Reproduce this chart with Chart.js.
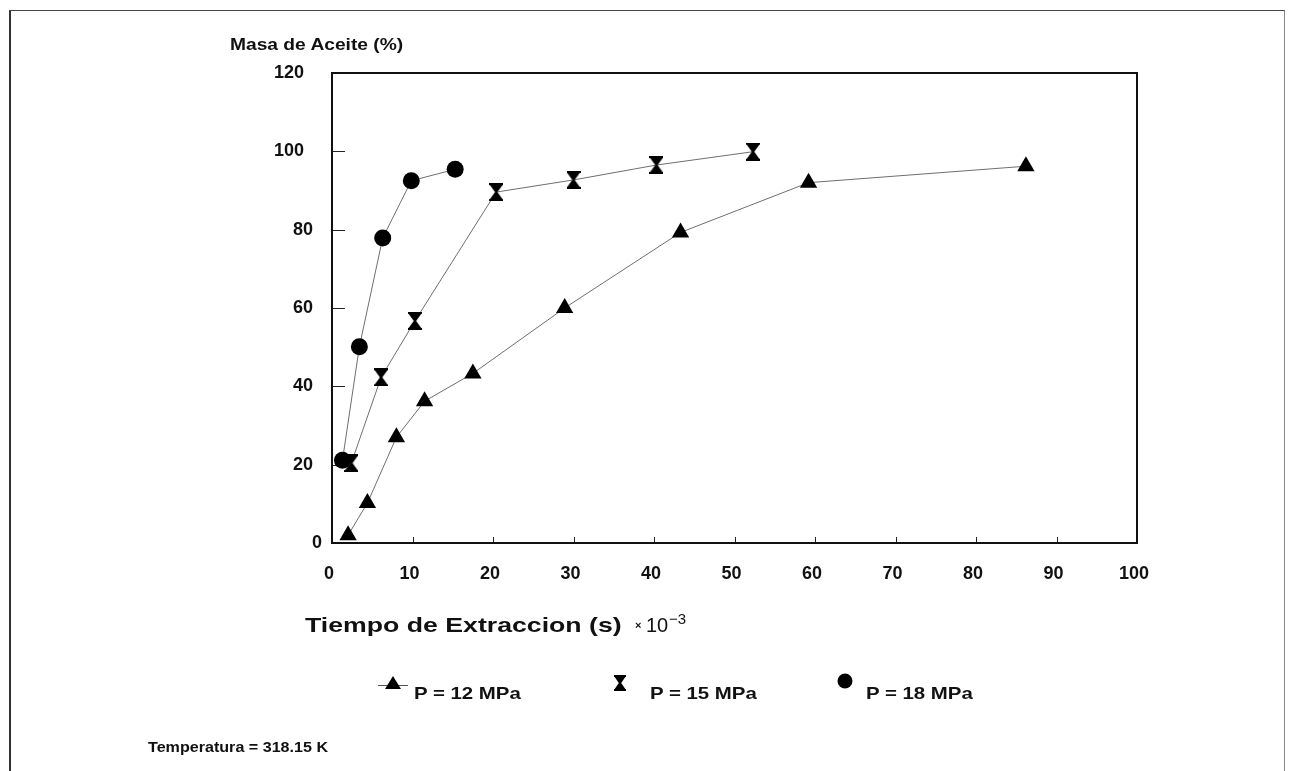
<!DOCTYPE html>
<html>
<head>
<meta charset="utf-8">
<script src="https://cdn.jsdelivr.net/npm/chart.js@4.4.1/dist/chart.umd.min.js"></script>
<style>
  html, body { margin: 0; padding: 0; background: #fff; overflow: hidden; }
  #wrap { position: relative; width: 1295px; height: 771px; font-family: "Liberation Sans", Arial, sans-serif; color: #111; }
  #outer { position: absolute; left: 9px; top: 10px; width: 1273px; height: 800px; border-left: 2px solid #333; border-top: 1px solid #444; border-right: 1px solid #888; }
  #chart { position: absolute; left: 0; top: 0; }
  .txt { position: absolute; white-space: nowrap; transform-origin: 0 0; line-height: 1; }
  .b { font-weight: bold; }
  .mk { position: absolute; }
</style>
</head>
<body>
<div id="wrap">
  <div id="outer"></div>
  <canvas id="chart" width="1295" height="771"></canvas>
  <div class="txt b" id="ytitle" style="left:230px; top:37px; font-size:16px; transform:scaleX(1.2);">Masa de Aceite (%)</div>
  <div class="txt b" style="left:305px; top:614px; font-size:21px; transform:scaleX(1.27);">Tiempo de Extraccion (s)</div>
  <div class="txt b" style="left:635px; top:620px; font-size:11px;">×</div>
  <div class="txt" style="left:646px; top:615px; font-size:20px;">10</div>
  <div class="txt" style="left:669px; top:611px; font-size:15px;">−3</div>
  <canvas class="mk" id="lg1" width="34" height="20" style="left:376px; top:673px;"></canvas>
  <div class="txt b" style="left:414px; top:685px; font-size:17px; transform:scaleX(1.2);">P = 12 MPa</div>
  <canvas class="mk" id="lg2" width="14" height="18" style="left:613px; top:674px;"></canvas>
  <div class="txt b" style="left:650px; top:685px; font-size:17px; transform:scaleX(1.2);">P = 15 MPa</div>
  <canvas class="mk" id="lg3" width="18" height="18" style="left:836px; top:672px;"></canvas>
  <div class="txt b" style="left:866px; top:685px; font-size:17px; transform:scaleX(1.2);">P = 18 MPa</div>
  <div class="txt b" style="left:148px; top:740px; font-size:14px; transform:scaleX(1.15);">Temperatura = 318.15 K</div>
</div>
<script>
// tiempo (s x 10^-3) y masa de aceite (%)
const t12 = [2.0, 4.4, 8.0, 11.5, 17.5, 28.9, 43.3, 59.2, 86.2];
const m12 = [2.0, 10.2, 27.0, 36.2, 43.3, 60.0, 79.3, 92.0, 96.2];

const t15 = [2.4, 6.1, 10.3, 20.4, 30.0, 40.3, 52.3];
const m15 = [20.4, 42.3, 56.7, 89.6, 92.7, 96.5, 99.9];

const t18 = [1.3, 3.4, 6.3, 9.85, 15.3];
const m18 = [21.1, 50.1, 77.9, 92.5, 95.4];

const seriesLabels = ['P = 12 MPa', 'P = 15 MPa', 'P = 18 MPa'];
const xTicks = [0, 10, 20, 30, 40, 50, 60, 70, 80, 90, 100];
const yTicks = [0, 20, 40, 60, 80, 100, 120];

function pts(xs, ys) {
    return xs.map((x, i) => ({ x: x, y: ys[i] }));
}

function drawHourglass(g, cx, cy, w, h) {
    g.fillStyle = '#000';
    g.fillRect(cx - w / 2, cy - h / 2, w, 2);
    g.fillRect(cx - w / 2, cy + h / 2 - 2, w, 2);
    g.beginPath();
    g.moveTo(cx - w / 2, cy - h / 2 + 1);
    g.lineTo(cx + w / 2, cy - h / 2 + 1);
    g.lineTo(cx + 1.2, cy);
    g.lineTo(cx - 1.2, cy);
    g.closePath();
    g.moveTo(cx - w / 2, cy + h / 2 - 1);
    g.lineTo(cx + w / 2, cy + h / 2 - 1);
    g.lineTo(cx + 1.2, cy);
    g.lineTo(cx - 1.2, cy);
    g.closePath();
    g.fill();
}

function hourglassIcon(w, h) {
    const c = document.createElement('canvas');
    c.width = w;
    c.height = h;
    drawHourglass(c.getContext('2d'), w / 2, h / 2, w, h);
    return c;
}

const hourglass = hourglassIcon(14, 18);

const frame = {
    id: 'frame',
    beforeDatasetsDraw(chart) {
        const ctx = chart.ctx;
        const a = chart.chartArea;
        const x = chart.scales.x;
        const y = chart.scales.y;
        ctx.save();
        ctx.strokeStyle = '#222';
        ctx.lineWidth = 1;
        ctx.beginPath();
        yTicks.forEach(v => {
            const py = Math.round(y.getPixelForValue(v)) + 0.5;
            ctx.moveTo(a.left, py);
            ctx.lineTo(a.left + 13, py);
        });
        xTicks.forEach(v => {
            const px = Math.round(x.getPixelForValue(v)) + 0.5;
            ctx.moveTo(px, a.bottom);
            ctx.lineTo(px, a.bottom - 6);
        });
        ctx.stroke();
        ctx.lineWidth = 2;
        ctx.strokeStyle = '#111';
        ctx.strokeRect(a.left, a.top, a.right - a.left, a.bottom - a.top);
        ctx.restore();
    }
};

const lineStyle = {
    borderColor: '#6f6f6f',
    borderWidth: 1,
    backgroundColor: '#000',
    pointBackgroundColor: '#000',
    pointBorderWidth: 0,
    tension: 0,
    fill: false,
    clip: false
};

const ctx = document.getElementById('chart').getContext('2d');
new Chart(ctx, {
    type: 'line',
    data: {
        datasets: [
            Object.assign({ label: seriesLabels[2], data: pts(t18, m18), pointStyle: 'circle', pointRadius: 8.5 }, lineStyle),
            Object.assign({ label: seriesLabels[1], data: pts(t15, m15), pointStyle: hourglass, pointRadius: 7 }, lineStyle),
            Object.assign({ label: seriesLabels[0], data: pts(t12, m12), pointStyle: 'triangle', pointRadius: 10 }, lineStyle)
        ]
    },
    options: {
        responsive: false,
        animation: false,
        events: [],
        layout: { padding: { left: 0, top: 73, right: 158, bottom: 188 } },
        plugins: { legend: { display: false }, tooltip: { enabled: false } },
        scales: {
            x: {
                type: 'linear',
                min: 0,
                max: 100,
                afterFit: s => { s.height = 40; },
                afterBuildTicks: s => { s.ticks = xTicks.map(v => ({ value: v })); },
                grid: { display: false, drawTicks: false },
                border: { display: false },
                ticks: {
                    padding: 20,
                    labelOffset: -3,
                    color: '#111',
                    font: { family: '"Liberation Sans", Arial, sans-serif', size: 18, weight: 'bold' }
                }
            },
            y: {
                min: 0,
                max: 120,
                afterFit: s => { s.width = 332; },
                afterBuildTicks: s => { s.ticks = yTicks.map(v => ({ value: v })); },
                grid: { display: false, drawTicks: false },
                border: { display: false },
                ticks: {
                    padding: 10,
                    color: '#111',
                    font: { family: '"Liberation Sans", Arial, sans-serif', size: 18, weight: 'bold' },
                    callback: v => String(v) + '\u2002'.repeat(String(v).length - 1)
                }
            }
        }
    },
    plugins: [frame]
});

// legend icons
(function () {
    let g = document.getElementById('lg1').getContext('2d');
    g.strokeStyle = '#555';
    g.lineWidth = 1;
    g.beginPath();
    g.moveTo(2, 12.5);
    g.lineTo(32, 12.5);
    g.stroke();
    g.fillStyle = '#000';
    g.beginPath();
    g.moveTo(17, 3);
    g.lineTo(25, 16);
    g.lineTo(9, 16);
    g.closePath();
    g.fill();

    g = document.getElementById('lg2').getContext('2d');
    drawHourglass(g, 7, 9, 12, 16);

    g = document.getElementById('lg3').getContext('2d');
    g.fillStyle = '#000';
    g.beginPath();
    g.arc(9, 9, 7.5, 0, Math.PI * 2);
    g.fill();
})();
</script>
</body>
</html>
